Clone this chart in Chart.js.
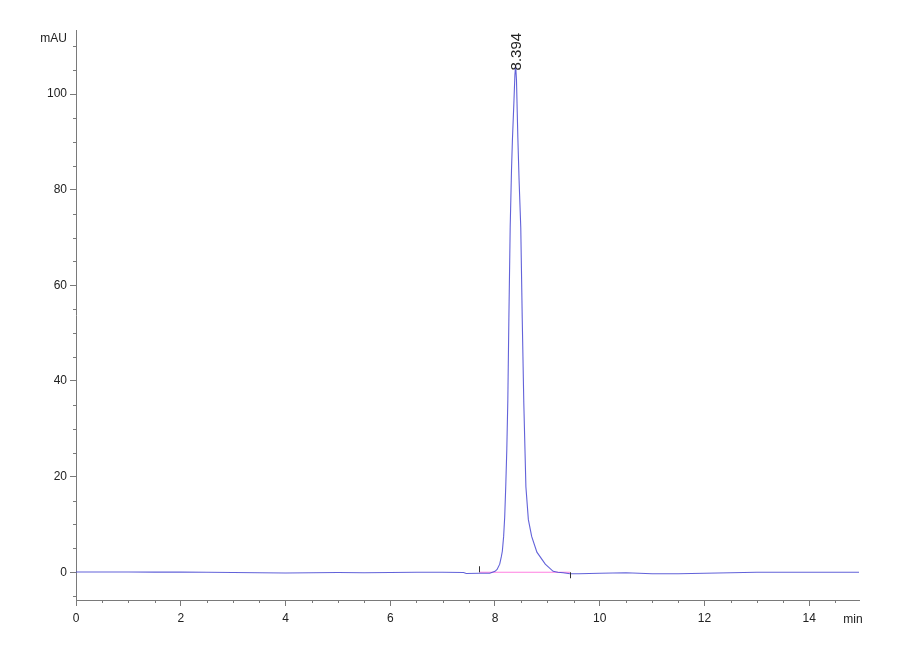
<!DOCTYPE html>
<html>
<head>
<meta charset="utf-8">
<script src="https://cdn.jsdelivr.net/npm/chart.js@4"></script>
<style>
  html, body { margin: 0; padding: 0; background: #fff; }
  #wrap { width: 900px; height: 660px; }
</style>
</head>
<body>
<div id="wrap"><canvas id="chrom" width="900" height="660"></canvas></div>
<script>
// retention time (min) and signal (mAU)
const times = [0, 0.5, 1, 1.5, 2, 2.5, 3, 3.5, 4, 4.5, 5, 5.5, 6, 6.5, 7, 7.4,
  7.45, 7.7, 7.9, 8.0, 8.04, 8.09, 8.12, 8.14, 8.165, 8.185, 8.205, 8.225, 8.245, 8.265,
  8.29, 8.315, 8.333, 8.36, 8.38, 8.394, 8.41, 8.436, 8.46, 8.492, 8.52, 8.55,
  8.59, 8.637, 8.70, 8.80, 8.96, 9.11, 9.2, 9.3, 9.43, 9.6, 10, 10.5, 11, 11.5,
  12, 12.5, 13, 13.5, 14, 14.5, 14.95];
const mau = [0.05, 0.05, 0.05, 0.03, 0.02, 0.0, -0.05, -0.1, -0.15, -0.1, -0.05, -0.1, -0.05, 0, 0, -0.05,
  -0.25, -0.2, -0.2, 0.2, 0.6, 1.7, 3.2, 4.4, 7.5, 11.5, 17.9, 25.5, 36, 53.1,
  72.1, 84, 90.5, 98, 104, 106, 103, 91, 82, 72.1, 53.1, 35.4,
  17.9, 11, 7.5, 4.2, 1.7, 0.2, 0, -0.1, -0.3, -0.3, -0.2, -0.1, -0.3, -0.3,
  -0.2, -0.1, 0, 0, 0, 0, 0];

// integration marks and peak label
const markerTimes = [7.70, 9.43];
const peakTime = 8.394;
const peakHeight = 106;
const peakLabel = '8.394';

const xTicks = [0, 2, 4, 6, 8, 10, 12, 14];
const yTicks = [0, 20, 40, 60, 80, 100];

const axisColor = '#7a7a7a';
const textColor = '#222';
const fontFamily = 'Arial, "Liberation Sans", sans-serif';

const extras = {
  id: 'extras',
  afterDraw(chart) {
    const ctx = chart.ctx;
    const xs = chart.scales.x, ys = chart.scales.y;
    const area = chart.chartArea;
    ctx.save();
    ctx.strokeStyle = axisColor;
    ctx.lineWidth = 1;
    // minor ticks on y
    ctx.beginPath();
    for (let v = -5; v <= 110; v += 5) {
      if (v % 20 === 0) continue;
      const py = Math.round(ys.getPixelForValue(v)) + 0.5;
      ctx.moveTo(area.left - 3, py);
      ctx.lineTo(area.left, py);
    }
    // minor ticks on x
    for (let t = 0.5; t < 15; t += 0.5) {
      if (t % 2 === 0) continue;
      const px = Math.round(xs.getPixelForValue(t)) + 0.5;
      ctx.moveTo(px, area.bottom);
      ctx.lineTo(px, area.bottom + 3);
    }
    ctx.stroke();

    // integration markers
    ctx.strokeStyle = '#333';
    ctx.beginPath();
    markerTimes.forEach((t, i) => {
      const px = Math.round(xs.getPixelForValue(t)) + 0.5;
      const py = ys.getPixelForValue(0);
      ctx.moveTo(px, py);
      ctx.lineTo(px, i === 0 ? py - 6 : py + 6);
    });
    ctx.stroke();

    // unit labels
    ctx.fillStyle = textColor;
    ctx.font = '12px ' + fontFamily;
    ctx.textAlign = 'right';
    ctx.textBaseline = 'middle';
    ctx.fillText('mAU', 67, 39);
    ctx.textAlign = 'center';
    ctx.fillText('min', 853, 620);

    // peak label, rotated
    const px = xs.getPixelForValue(peakTime);
    const py = ys.getPixelForValue(peakHeight);
    ctx.translate(px + 1, py + 5);
    ctx.rotate(-Math.PI / 2);
    ctx.font = '15px ' + fontFamily;
    ctx.textAlign = 'left';
    ctx.textBaseline = 'middle';
    ctx.fillText(peakLabel, 0, 0);
    ctx.restore();
  }
};

new Chart(document.getElementById('chrom').getContext('2d'), {
  type: 'scatter',
  data: {
    datasets: [{
      label: 'baseline',
      data: markerTimes.map(t => ({x: t, y: 0})),
      showLine: true,
      borderColor: '#ff7fe0',
      borderWidth: 1.2,
      pointRadius: 0,
      order: 2
    }, {
      label: 'signal',
      data: times.map((t, i) => ({x: t, y: mau[i]})),
      showLine: true,
      borderColor: 'rgba(70,70,210,0.85)',
      borderWidth: 1.1,
      pointRadius: 0,
      tension: 0,
      order: 1
    }]
  },
  options: {
    responsive: false,
    animation: false,
    layout: { padding: { left: 0, top: 30, right: 41, bottom: 0 } },
    plugins: { legend: { display: false }, tooltip: { enabled: false } },
    scales: {
      x: {
        type: 'linear',
        min: 0,
        max: 14.95,
        afterFit(scale) { scale.height = 60; },
        afterBuildTicks(scale) { scale.ticks = xTicks.map(v => ({value: v})); },
        grid: { display: true, drawOnChartArea: false, drawTicks: true, tickLength: 6, color: axisColor },
        border: { display: true, color: axisColor },
        ticks: { color: textColor, padding: 5, maxRotation: 0, autoSkip: false, font: { size: 12, family: fontFamily } }
      },
      y: {
        type: 'linear',
        min: -5.8,
        max: 113.4,
        afterFit(scale) { scale.width = 76; },
        afterBuildTicks(scale) { scale.ticks = yTicks.map(v => ({value: v})); },
        grid: { display: true, drawOnChartArea: false, drawTicks: true, tickLength: 6, color: axisColor },
        border: { display: true, color: axisColor },
        ticks: { color: textColor, padding: 3, autoSkip: false, font: { size: 12, family: fontFamily } }
      }
    }
  },
  plugins: [extras]
});
</script>
</body>
</html>
